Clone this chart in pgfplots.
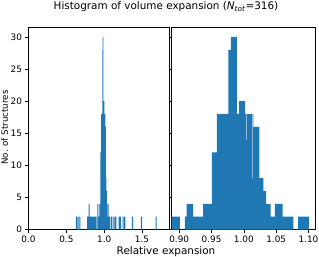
\documentclass[border=0pt]{standalone}
\usepackage{fontspec}
\setmainfont{DejaVu Sans}
\usepackage{pgfplots}
\pgfplotsset{compat=1.18}
\usepackage{pgfplotstable}
\definecolor{c0}{HTML}{1F77B4}
\definecolor{c0light}{HTML}{8DB9DD}

% step outline of the histogram: left edge of each bar and its count
\pgfplotstableread{
x h
0.627 2
0.641 0
0.649 2
0.663 0
0.671 2
0.685 0
0.774 2
0.796 4
0.806 2
0.9011 0
0.9088 2
0.9113 4
0.9216 2
0.9370 4
0.9505 12
0.9582 18
0.9761 28
0.9798 30
0.9890 18
0.9926 20
1.0019 18
1.0147 16
1.0239 8
1.0301 6
1.0343 4
1.0415 2
1.0481 4
1.0600 2
1.0764 0
1.0841 2
1.1011 0
1.111 2
1.125 0
1.133 2
1.147 2
1.161 0
1.190 2
1.204 0
1.208 2
1.222 0
1.243 2
1.257 0
1.265 2
1.279 0
1.367 2
1.381 0
1.486 2
1.500 0
1.678 2
1.692 0
}\histdata

\pgfplotsset{
  hstyle/.style={
    scale only axis, height=202.2bp,
    ymin=0, ymax=31.5,
    ytick={0,5,10,15,20,25,30},
    tick align=outside, xtick pos=bottom, ytick pos=left,
    major tick length=3bp,
    tick style={black, line width=0.7bp},
    axis line style={black, line width=0.7bp},
    tick label style={font=\fontsize{8.9}{10}\selectfont},
    /pgf/number format/assume math mode=true,
    anchor=south west,
  }
}

\begin{document}
\begin{tikzpicture}
\path[use as bounding box] (0,0) rectangle (319bp,257bp);

\begin{axis}[hstyle,
  at={(28.5bp,27.5bp)}, width=140.4bp,
  xmin=0, xmax=1.855,
  xtick={0,0.5,1,1.5},
  xticklabel style={/pgf/number format/.cd, fixed, fixed zerofill, precision=1},
]
\addplot[ybar interval, fill=c0, draw=none] table[x=x, y=h] {\histdata};
\end{axis}

\begin{axis}[hstyle,
  at={(171.7bp,27.5bp)}, width=143.8bp,
  xmin=0.8884, xmax=1.1108,
  xtick={0.90,0.95,1.00,1.05,1.10},
  yticklabels={},
  xticklabel style={/pgf/number format/.cd, fixed, fixed zerofill, precision=2},
]
\addplot[ybar interval, fill=c0, draw=none] table[x=x, y=h] {\histdata};
\addplot[c0light, line width=0.8bp] coordinates {(1.0034,14) (1.0034,18)};
\addplot[c0light, line width=0.8bp] coordinates {(1.0137,8) (1.0137,18)};
\end{axis}

\node[anchor=base, font=\fontsize{10.45}{12}\selectfont] at (166bp,247bp)
  {Histogram of volume expansion (\textit{N}\textsubscript{\textit{tot}}=316)};
\node[anchor=base, font=\fontsize{10.45}{12}\selectfont] at (166bp,3bp)
  {Relative expansion};
\node[rotate=90, anchor=center, font=\fontsize{8.7}{10}\selectfont] at (4.6bp,129.5bp)
  {No. of Structures};
\end{tikzpicture}
\end{document}
